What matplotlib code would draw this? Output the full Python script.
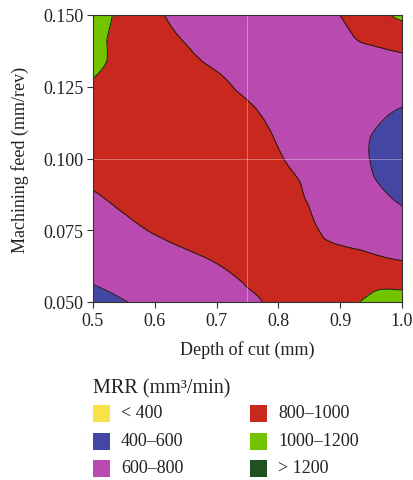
import numpy as np
import matplotlib
matplotlib.use("Agg")
import matplotlib.pyplot as plt
import matplotlib.tri as mtri
from matplotlib.patches import Rectangle

plt.rcParams['font.family'] = ['Liberation Serif', 'DejaVu Serif']

# Response table: MRR (mm^3/min) at each depth of cut (rows) and feed (columns)
depth = [0.5, 0.6, 0.7, 0.8, 0.9, 1.0]
feed = [0.05, 0.0625, 0.075, 0.0875, 0.1, 0.1125, 0.125, 0.1375, 0.15]
mrr = [
    [560, 640, 717, 792, 857, 921, 985, 1040, 1090],   # d = 0.5
    [633, 710, 810, 870, 905, 920, 910, 875, 825],     # d = 0.6
    [725, 795, 850, 880, 885, 870, 830, 760, 688],     # d = 0.7
    [830, 860, 870, 860, 810, 780, 715, 690, 680],     # d = 0.8
    [960, 870, 760, 690, 660, 660, 690, 740, 800],     # d = 0.9
    [1080, 830, 670, 575, 540, 570, 650, 810, 1030],   # d = 1.0
]

levels = [0, 400, 600, 800, 1000, 1200, 2000]
band_labels = ['< 400', '400–600', '600–800', '800–1000', '1000–1200', '> 1200']
band_colors = ['#F9E24A', '#4347A3', '#B94AB0', '#C8281E', '#73C300', '#1F5220']

D, F = np.meshgrid(depth, feed, indexing='ij')
Z = np.array(mrr, dtype=float)
tri = mtri.Triangulation(D.ravel(), F.ravel())
interp = mtri.CubicTriInterpolator(tri, Z.ravel(), kind='geom')
refiner = mtri.UniformTriRefiner(tri)
tri_f, z_f = refiner.refine_field(Z.ravel(), triinterpolator=interp, subdiv=4)

W, H = 414, 481
fig = plt.figure(figsize=(W / 100, H / 100), dpi=100)
ax = fig.add_axes([93 / W, 1 - 303 / H, (402 - 93) / W, (303 - 16) / H])

ax.tricontourf(tri_f, z_f, levels=levels, colors=band_colors)
ax.tricontour(tri_f, z_f, levels=levels[1:-1], colors='#1a1a1a', linewidths=0.7)

# light reference lines through the centre point
ax.axvline(0.75, color='white', lw=0.6, alpha=0.4)
ax.axhline(0.10, color='white', lw=0.6, alpha=0.4)

ax.set_xlim(0.5, 1.0)
ax.set_ylim(0.05, 0.15)
ax.set_xticks([0.5, 0.6, 0.7, 0.8, 0.9, 1.0])
ax.set_xticklabels(['0.5', '0.6', '0.7', '0.8', '0.9', '1.0'])
ax.set_yticks([0.05, 0.075, 0.1, 0.125, 0.15])
ax.set_yticklabels(['0.050', '0.075', '0.100', '0.125', '0.150'])
ax.tick_params(direction='out', length=4, width=0.8, color='#333333',
               labelsize=13, labelcolor='#222222', pad=3)
for s in ax.spines.values():
    s.set_color('#333333')
    s.set_linewidth(0.8)

ax.set_xlabel('Depth of cut (mm)', fontsize=13, color='#222222', labelpad=8)
ax.set_ylabel('Machining feed (mm/rev)', fontsize=13, color='#222222', labelpad=10)

# legend drawn in figure pixels
fig.text(93 / W, 1 - 389 / H, 'MRR (mm³/min)', fontsize=14.5, color='#222222',
         va='center', ha='left')
col_x = [93, 250]
row_y = [414, 442, 469]
sq = 17
for i, (lab, col) in enumerate(zip(band_labels, band_colors)):
    c, r = divmod(i, 3)
    x0, yc = col_x[c], row_y[r]
    fig.patches.append(Rectangle((x0 / W, 1 - (yc + sq / 2) / H), sq / W, sq / H,
                                 transform=fig.transFigure, facecolor=col,
                                 edgecolor='none'))
    fig.text((x0 + 28) / W, 1 - yc / H, lab, fontsize=13, color='#222222',
             va='center', ha='left')

fig.savefig('out.png', dpi=100)
